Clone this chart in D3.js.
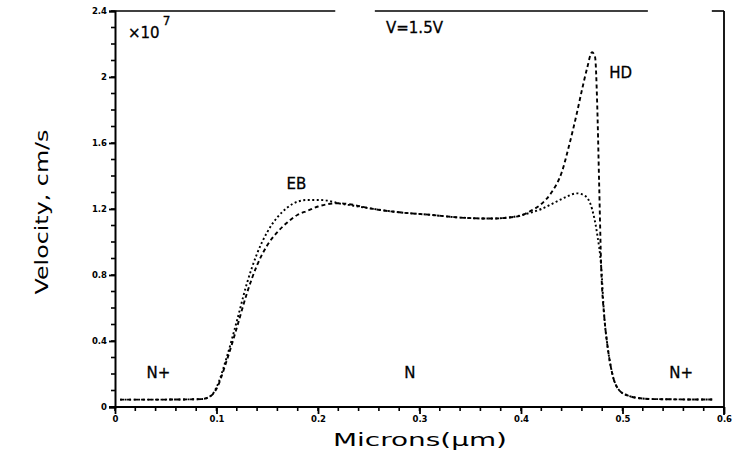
<!DOCTYPE html>
<html><head><meta charset="utf-8">
<script src="https://cdn.jsdelivr.net/npm/d3@7"></script>
<style>body{margin:0;background:#fff}svg{display:block}</style>
</head><body>
<svg id="c" width="735" height="451"></svg>
<script>
// data (x in microns, y in 1e7 cm/s)
const ebX = [0.005,0.05,0.085,0.095,0.1,0.11,0.12,0.13,0.14,0.15,0.16,0.17,0.18,0.19,0.2,0.21,0.22,0.235,0.25,0.28,0.31,0.34,0.37,0.39,0.405,0.42,0.435,0.445,0.455,0.463,0.47,0.475,0.479,0.482,0.485,0.49,0.497,0.505,0.515,0.53,0.59];
const ebY = [0.045,0.045,0.048,0.07,0.12,0.3,0.52,0.75,0.93,1.06,1.15,1.21,1.245,1.255,1.255,1.25,1.235,1.22,1.205,1.18,1.165,1.148,1.142,1.15,1.17,1.2,1.245,1.275,1.295,1.28,1.2,1.05,0.85,0.55,0.38,0.2,0.1,0.07,0.055,0.048,0.045];
const hdX = [0.005,0.05,0.085,0.095,0.1,0.11,0.12,0.13,0.14,0.15,0.16,0.17,0.18,0.19,0.2,0.21,0.22,0.235,0.25,0.28,0.31,0.34,0.37,0.39,0.4,0.41,0.42,0.43,0.44,0.448,0.455,0.46,0.465,0.47,0.473,0.475,0.477,0.479,0.482,0.485,0.49,0.497,0.505,0.515,0.53,0.59];
const hdY = [0.045,0.045,0.048,0.07,0.11,0.28,0.48,0.69,0.86,0.98,1.06,1.12,1.165,1.19,1.215,1.23,1.235,1.225,1.205,1.18,1.165,1.148,1.142,1.15,1.16,1.19,1.23,1.3,1.42,1.6,1.78,1.92,2.05,2.15,2.12,1.85,1.35,0.85,0.55,0.38,0.2,0.1,0.07,0.055,0.048,0.045];
const xTicks = [0,0.1,0.2,0.3,0.4,0.5,0.6];
const xTickLabels = ["0","0.1","0.2","0.3","0.4","0.5","0.6"];
const yTicks = [0,0.4,0.8,1.2,1.6,2,2.4];
const yTickLabels = ["0","0.4","0.8","1.2","1.6","2","2.4"];
const topBorder = [[0,0.217],[0.256,0.525],[0.588,0.6]];
const annotations = [
  {t:"V=1.5V", x:0.267, y:2.265},
  {t:"HD", x:0.487, y:1.995},
  {t:"EB", x:0.169, y:1.32},
  {t:"N+", x:0.031, y:0.175},
  {t:"N", x:0.285, y:0.175},
  {t:"N+", x:0.546, y:0.175}
];

const svg = d3.select("#c");
const L=115, R=724, T=11, B=407;
const x = d3.scaleLinear().domain([0,0.6]).range([L,R]);
const y = d3.scaleLinear().domain([0,2.4]).range([B,T]);
const font = "'DejaVu Sans', sans-serif";

// minor ticks
const g = svg.append("g").attr("stroke","#000");
d3.range(0,0.6001,0.02).forEach(v=>{
  g.append("line").attr("x1",x(v)).attr("x2",x(v)).attr("y1",B).attr("y2",B+4).attr("stroke-width",1.6);
});
d3.range(0,2.4001,0.1).forEach(v=>{
  g.append("line").attr("x1",L-4).attr("x2",L).attr("y1",y(v)).attr("y2",y(v)).attr("stroke-width",1.6);
});

// axes
const xAxis = d3.axisBottom(x).tickValues(xTicks).tickFormat((d,i)=>xTickLabels[i]).tickSize(7).tickPadding(2);
const yAxis = d3.axisLeft(y).tickValues(yTicks).tickFormat((d,i)=>yTickLabels[i]).tickSize(6).tickPadding(2);
const gx = svg.append("g").attr("transform",`translate(0,${B})`).call(xAxis);
const gy = svg.append("g").attr("transform",`translate(${L},0)`).call(yAxis);
[gx,gy].forEach(a=>{
  a.select(".domain").attr("stroke","#000").attr("stroke-width",2);
  a.selectAll(".tick line").attr("stroke","#000").attr("stroke-width",1.8);
  a.selectAll(".tick text").attr("font-family",font).attr("font-size",8.5).attr("font-weight","bold").attr("fill","#000");
});
gx.select(".domain").attr("d",`M${L-6},0H${R}`);

// top border & right border
topBorder.forEach(s=>{
  svg.append("line").attr("x1",x(s[0])).attr("x2",x(s[1])).attr("y1",T).attr("y2",T).attr("stroke","#000").attr("stroke-width",1.6);
});
svg.append("line").attr("x1",R).attr("x2",R).attr("y1",T).attr("y2",B+8).attr("stroke","#000").attr("stroke-width",1.8);

// curves
const line = d3.line().x(d=>x(d[0])).y(d=>y(d[1])).curve(d3.curveMonotoneX);
svg.append("path").datum(hdX.map((v,i)=>[v,hdY[i]])).attr("d",line)
  .attr("fill","none").attr("stroke","#000").attr("stroke-width",1.9).attr("stroke-dasharray","4,3");
svg.append("path").datum(ebX.map((v,i)=>[v,ebY[i]])).attr("d",line)
  .attr("fill","none").attr("stroke","#000").attr("stroke-width",1.9).attr("stroke-dasharray","2,2.5");

// annotations
annotations.forEach(a=>{
  svg.append("text").attr("x",x(a.x)).attr("y",y(a.y)).text(a.t)
    .attr("font-family",font).attr("font-size",15).attr("fill","#000")
    .attr("stroke","#000").attr("stroke-width",0.3);
});
const sc = svg.append("text").attr("x",128).attr("y",38).attr("font-family",font).attr("font-size",15)
  .attr("fill","#000").attr("stroke","#000").attr("stroke-width",0.3);
sc.append("tspan").text("×10");
sc.append("tspan").text("7").attr("dy",-13).attr("dx",3).attr("font-size",12);

// axis titles
svg.append("text").attr("x",420).attr("y",446).attr("text-anchor","middle")
  .attr("font-family",font).attr("font-size",17).attr("textLength",174).attr("lengthAdjust","spacingAndGlyphs")
  .attr("fill","#000").text("Microns(μm)");
svg.append("text").attr("transform","translate(48,212) rotate(-90)").attr("text-anchor","middle")
  .attr("font-family",font).attr("font-size",17).attr("textLength",165).attr("lengthAdjust","spacingAndGlyphs")
  .attr("fill","#000").text("Velocity, cm/s");
</script>
</body></html>
